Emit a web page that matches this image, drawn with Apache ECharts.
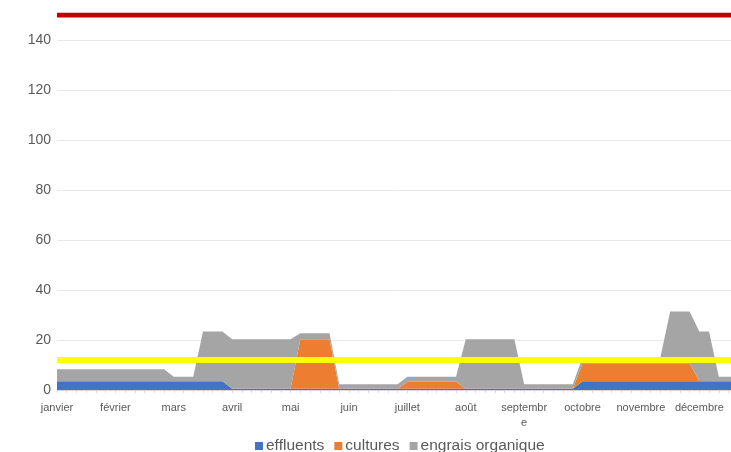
<!DOCTYPE html>
<html>
<head>
<meta charset="utf-8">
<script src="https://cdn.jsdelivr.net/npm/echarts@6/dist/echarts.min.js"></script>
<style>
  html, body { margin: 0; padding: 0; background: #fff; }
  #main { width: 731px; height: 452px; }
</style>
</head>
<body>
<div id="main"></div>
<script>
// mois affichés sur l'axe (6 points par mois)
var mois = ['janvier', 'février', 'mars', 'avril', 'mai', 'juin', 'juillet', 'août', 'septembr\ne', 'octobre', 'novembre', 'décembre'];
var pasParMois = 6;

// valeurs (72 points)
var effluents = [
  3.5, 3.5, 3.5, 3.5, 3.5, 3.5, 3.5, 3.5, 3.5, 3.5, 3.5, 3.5,
  3.5, 3.5, 3.5, 3.5, 3.5, 3.5, 0.5, 0.5, 0.5, 0.5, 0.5, 0.5,
  0.5, 0.5, 0.5, 0.5, 0.5, 0.5, 0.5, 0.5, 0.5, 0.5, 0.5, 0.5,
  0.5, 0.5, 0.5, 0.5, 0.5, 0.5, 0.5, 0.5, 0.5, 0.5, 0.5, 0.5,
  0.5, 0.5, 0.5, 0.5, 0.5, 0.5, 3.5, 3.5, 3.5, 3.5, 3.5, 3.5,
  3.5, 3.5, 3.5, 3.5, 3.5, 3.5, 3.5, 3.5, 3.5, 3.5, 3.5, 3.5
];
var cultures = [
  0, 0, 0, 0, 0, 0, 0, 0, 0, 0, 0, 0,
  0, 0, 0, 0, 0, 0, 0, 0, 0, 0, 0, 0,
  0, 19.8, 19.8, 19.8, 19.8, 0, 0, 0, 0, 0, 0, 0,
  2.8, 2.8, 2.8, 2.8, 2.8, 2.8, 0, 0, 0, 0, 0, 0,
  0, 0, 0, 0, 0, 0, 7.2, 7.2, 7.2, 7.2, 7.2, 7.2,
  7.2, 7.2, 7.2, 7.2, 7.2, 7.2, 0, 0, 0, 0, 0, 0
];
var engrais = [
  4.8, 4.8, 4.8, 4.8, 4.8, 4.8, 4.8, 4.8, 4.8, 4.8, 4.8, 4.8,
  1.8, 1.8, 1.8, 19.9, 19.9, 19.9, 19.8, 19.8, 19.8, 19.8, 19.8, 19.8,
  19.8, 2.4, 2.4, 2.4, 2.4, 1.8, 1.8, 1.8, 1.8, 1.8, 1.8, 1.8,
  2.0, 2.0, 2.0, 2.0, 2.0, 2.0, 19.8, 19.8, 19.8, 19.8, 19.8, 19.8,
  1.8, 1.8, 1.8, 1.8, 1.8, 1.8, 2.4, 2.4, 2.4, 2.4, 2.4, 2.4,
  2.4, 2.4, 2.4, 20.7, 20.7, 20.7, 19.9, 19.9, 1.8, 1.8, 1.8, 1.8
];
var seuilHaut = 150;
var seuilBas = 12;

var categories = [];
mois.forEach(function (m, i) {
  for (var k = 0; k < pasParMois; k++) categories.push(m + '#' + k);
});
var ligneHaute = categories.map(function () { return seuilHaut; });
var ligneBasse = categories.map(function () { return seuilBas; });

var police = 'Liberation Sans, Arial, sans-serif';

function aire(nom, couleur, data) {
  return {
    name: nom,
    type: 'line',
    stack: 'total',
    symbol: 'none',
    lineStyle: { width: 0 },
    areaStyle: { color: couleur, opacity: 1 },
    itemStyle: { color: couleur },
    data: data
  };
}

var myChart = echarts.init(document.getElementById('main'));
myChart.setOption({
  animation: false,
  textStyle: { fontFamily: police },
  // le graphique d'origine est coupé à droite : la zone de tracé dépasse la fenêtre
  grid: { left: 57, width: 691, top: 15, bottom: 62, outerBoundsMode: 'none', containLabel: false },
  legend: {
    data: ['effluents', 'cultures', 'engrais organique'],
    left: 250,
    top: 433,
    icon: 'rect',
    itemWidth: 8,
    itemHeight: 8,
    itemGap: 10,
    textStyle: { color: '#595959', fontSize: 15.5, fontFamily: police, padding: [0, 0, 0, -2] }
  },
  xAxis: {
    type: 'category',
    boundaryGap: false,
    data: categories,
    axisLine: { lineStyle: { color: '#d9d9d9' } },
    axisTick: { interval: 0, length: 3, lineStyle: { color: '#d9d9d9' } },
    axisLabel: {
      interval: pasParMois - 1,
      color: '#595959',
      fontSize: 11,
      margin: 10,
      lineHeight: 15,
      formatter: function (v) { return v.split('#')[0]; }
    }
  },
  yAxis: {
    type: 'value',
    min: 0,
    max: 150,
    interval: 20,
    axisLine: { show: false },
    axisTick: { show: false },
    axisLabel: {
      color: '#595959',
      fontSize: 14,
      margin: 6,
      formatter: function (v) { return v > 140 ? '' : v; }
    },
    splitLine: { lineStyle: { color: '#e8e8e8' } }
  },
  series: [
    aire('effluents', '#4472c4', effluents),
    aire('cultures', '#ed7d31', cultures),
    aire('engrais organique', '#a5a5a5', engrais),
    {
      name: 'seuil bas',
      type: 'line',
      symbol: 'none',
      lineStyle: { color: '#ffff00', width: 6 },
      data: ligneBasse
    },
    {
      name: 'seuil haut',
      type: 'line',
      symbol: 'none',
      lineStyle: { color: '#c00000', width: 5 },
      data: ligneHaute
    }
  ]
});
</script>
</body>
</html>
